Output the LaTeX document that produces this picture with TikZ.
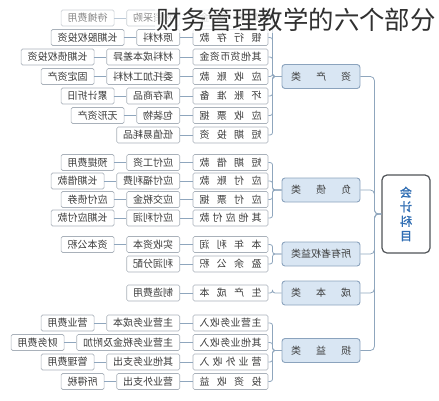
\documentclass[tikz,border=0pt]{standalone}
\usepackage{fontspec}
\usepackage{graphicx}
\usetikzlibrary{positioning}
\newfontfamily\cjk{Noto Sans CJK SC}
\newfontfamily\cjkb{Noto Sans CJK SC}[FakeBold=2]
\definecolor{boxline}{HTML}{A9B1BA}
\definecolor{txt}{HTML}{3C3C3C}
\definecolor{conncol}{HTML}{8FA6BD}
\definecolor{catfill}{HTML}{D9E6F3}
\definecolor{catline}{HTML}{8BA3BD}
\definecolor{rootline}{HTML}{505458}
\definecolor{roottxt}{HTML}{2F6DB3}
\definecolor{titlecol}{HTML}{303030}
\tikzset{
  x=1pt, y=-1pt,
  leaf/.style={draw=boxline, fill=white, rounded corners=1.5pt, minimum height=16pt,
    inner xsep=6.5pt, inner ysep=0pt, line width=0.6pt, text=txt,
    font=\cjk\fontsize{10}{11}\selectfont},
  cthree/.style={leaf, minimum width=75pt},
  ctwo/.style={leaf, anchor=east},
  cone/.style={leaf},
  catbox/.style={draw=catline, fill=catfill, rounded corners=3pt, minimum width=78pt,
    minimum height=24pt, line width=0.9pt, text=txt, inner sep=0pt,
    font=\cjk\fontsize{10}{11}\selectfont},
  rootbox/.style={draw=rootline, fill=white, rounded corners=5pt, minimum width=48pt,
    minimum height=78pt, line width=1.2pt, text=roottxt, align=center,
    font=\cjkb\fontsize{12}{14.5}\selectfont},
  conn/.style={draw=conncol, line width=0.8pt},
}
\newcommand\leafrow[5]{%
  \node[cthree] (#1c) at (230.5,#2) {\reflectbox{\makebox[62pt]{#3}}};
  \node[ctwo] (#1b) at (180,#2) {\reflectbox{#4}};
  \draw[conn] (#1b.east) -- (#1c.west);
  \draw[conn, rounded corners=2.5pt] (#5.west) -- ++(-9,0) |- (#1c.east);
}
\newcommand\leafone[2]{%
  \node[cone, left=12pt of #1b] (#1a) {\reflectbox{#2}};
  \draw[conn] (#1a.east) -- (#1b.west);
}
\newcommand\cattext[1]{\reflectbox{\makebox[60pt]{#1}}}
\begin{document}
\begin{tikzpicture}
\useasboundingbox (0,0) rectangle (439,400);
% root
\node[rootbox] (root) at (406,214) {\reflectbox{会}\\\reflectbox{计}\\\reflectbox{科}\\\reflectbox{目}};
% categories
\node[catbox] (za) at (321,76.5) {\cattext{资\hfill 产\hfill 类}};
\node[catbox] (zb) at (321,190) {\cattext{负\hfill 债\hfill 类}};
\node[catbox] (zq) at (321,254) {\cattext{所有者权益类}};
\node[catbox] (zk) at (321,293) {\cattext{成\hfill 本\hfill 类}};
\node[catbox] (zs) at (321,350.5) {\cattext{损\hfill 益\hfill 类}};
\foreach \c in {za,zb,zq,zk,zs}{
  \draw[conn, rounded corners=4pt] (root.west) -- ++(-7,0) |- (\c.east);
}
% assets
\leafrow{a1}{18}{库\hfill 存\hfill 现\hfill 金}{物资采购}{za}
\leafone{a1}{待摊费用}
\leafrow{a2}{37.5}{银\hfill 行\hfill 存\hfill 款}{原材料}{za}
\leafone{a2}{长期股权投资}
\leafrow{a3}{57}{其\hfill 他\hfill 货\hfill 币\hfill 资\hfill 金}{材料成本差异}{za}
\leafone{a3}{长期债权投资}
\leafrow{a4}{76.5}{应\hfill 收\hfill 账\hfill 款}{委托加工材料}{za}
\leafone{a4}{固定资产}
\leafrow{a5}{96}{坏\hfill 账\hfill 准\hfill 备}{库存商品}{za}
\leafone{a5}{累计折旧}
\leafrow{a6}{115.5}{应\hfill 收\hfill 票\hfill 据}{包装物}{za}
\leafone{a6}{无形资产}
\leafrow{a7}{135}{短\hfill 期\hfill 投\hfill 资}{低值易耗品}{za}
% liabilities
\leafrow{b1}{162.5}{短\hfill 期\hfill 借\hfill 款}{应付工资}{zb}
\leafone{b1}{预提费用}
\leafrow{b2}{181}{应\hfill 付\hfill 账\hfill 款}{应付福利费}{zb}
\leafone{b2}{长期借款}
\leafrow{b3}{199.5}{应\hfill 付\hfill 票\hfill 据}{应交税金}{zb}
\leafone{b3}{应付债券}
\leafrow{b4}{218}{其\hfill 他\hfill 应\hfill 付\hfill 款}{应付利润}{zb}
\leafone{b4}{长期应付款}
% equity
\leafrow{q1}{244.5}{本\hfill 年\hfill 利\hfill 润}{实收资本}{zq}
\leafone{q1}{资本公积}
\leafrow{q2}{264}{盈\hfill 余\hfill 公\hfill 积}{利润分配}{zq}
% cost
\leafrow{k1}{293}{生\hfill 产\hfill 成\hfill 本}{制造费用}{zk}
% profit and loss
\leafrow{s1}{323}{主\hfill 营\hfill 业\hfill 务\hfill 收\hfill 入}{主营业务成本}{zs}
\leafone{s1}{营业费用}
\leafrow{s2}{342.5}{其\hfill 他\hfill 业\hfill 务\hfill 收\hfill 入}{主营业务税金及附加}{zs}
\leafone{s2}{财务费用}
\leafrow{s3}{362}{营\hfill 业\hfill 外\hfill 收\hfill 入}{其他业务支出}{zs}
\leafone{s3}{管理费用}
\leafrow{s4}{381.5}{投\hfill 资\hfill 收\hfill 益}{营业外支出}{zs}
\leafone{s4}{所得税}
% faded top band
\fill[white, opacity=0.4] (0,0) rectangle (439,27);
% title
\node[anchor=west, inner sep=1pt, fill=white, fill opacity=0.7, text opacity=1,
  text=titlecol, font=\cjk\fontsize{25.4}{26}\selectfont] (title) at (155,20) {财务管理教学的六个部分};
\end{tikzpicture}
\end{document}
